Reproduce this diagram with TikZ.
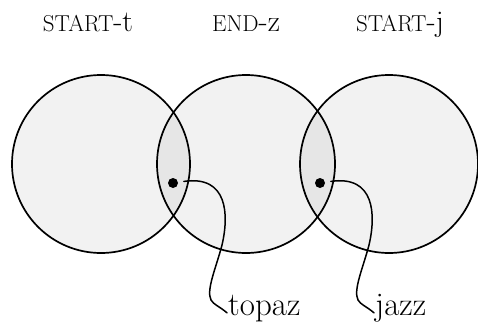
\documentclass[tikz,border=0pt]{standalone}
\usepackage{fontspec}
\usetikzlibrary{calc}
\newcommand{\capsword}[1]{{\fontsize{23}{28}\selectfont #1}}
\begin{document}
\begin{tikzpicture}[x=1pt,y=-1pt,
  set/.style={draw=black,line width=1.7pt,fill=black,fill opacity=0.05},
  dotmark/.style={circle,fill=black,inner sep=0pt,minimum size=10pt},
  lead/.style={line width=1.5pt,line cap=round,shorten <=11pt},
  setlabel/.style={anchor=base,inner sep=0pt,font=\fontsize{30}{36}\selectfont},
  word/.style={anchor=base west,inner sep=1pt,font=\fontsize{33}{40}\selectfont}]
\useasboundingbox (0,0) rectangle (478,321);
% the three sets
\draw[set] (101,164) circle[radius=89];
\draw[set] (246,164) circle[radius=89];
\draw[set] (389,164) circle[radius=89];
% set names
\node[setlabel] (lt) at (88,32) {\capsword{START}-t};
\node[setlabel] (lz) at (246,32) {\capsword{END}-z};
\node[setlabel] (lj) at (400,32) {\capsword{START}-j};
% members in the overlaps
\node[dotmark] (d1) at (173,183) {};
\node[dotmark] (d2) at (320,183) {};
\node[word] (w1) at (227,315) {topaz};
\node[word] (w2) at (374,315) {jazz};
% leaders from the members to their words
\draw[lead] (d1.center) .. controls (228,175) and (229,215) .. (222,245)
  .. controls (216,268) and (206,290) .. (211,300)
  .. controls (214,305) and (219,306) .. (w1.mid west);
\draw[lead] (d2.center) .. controls (375,175) and (376,215) .. (369,245)
  .. controls (363,268) and (353,290) .. (358,300)
  .. controls (361,305) and (366,306) .. (w2.mid west);
\end{tikzpicture}
\end{document}
